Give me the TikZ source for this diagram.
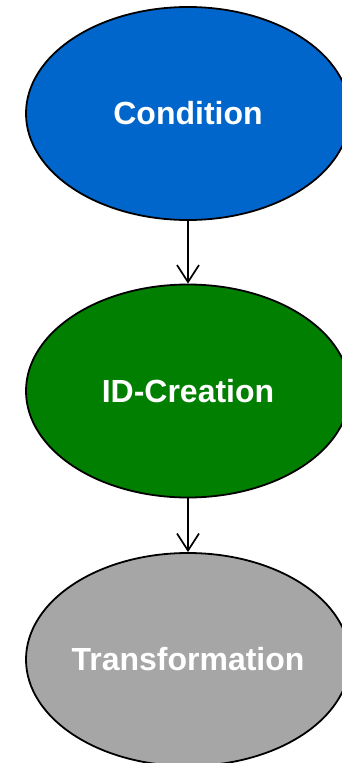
\documentclass[tikz,border=0pt]{standalone}
\usepackage{fontspec}
\setmainfont{Liberation Sans}
\usetikzlibrary{shapes.geometric,arrows.meta}
\definecolor{condblue}{HTML}{0066CC}
\definecolor{idgreen}{HTML}{007F00}
\definecolor{trgray}{HTML}{A6A6A6}
\tikzset{
  % fixed-size ellipse; the caption is set as a centred label so that
  % long words do not enlarge the shape
  stage/.style={ellipse, draw=black, line width=1.8pt, inner sep=0pt,
    minimum width=324pt, minimum height=213pt,
    label={[text=white, font=\fontsize{32}{38}\selectfont\bfseries]center:#1}},
  flow/.style={line width=1.7pt, -{Straight Barb[length=17pt,width=22pt,line width=1.7pt]}}
}
\begin{document}
\begin{tikzpicture}[x=1pt,y=1pt]
  \clip (0,0) rectangle (342,-763);
  \fill[white] (0,0) rectangle (342,-763);
  \node[stage=Condition,      fill=condblue] (cond)  at (188,-113.5) {};
  \node[stage=ID-Creation,    fill=idgreen]  (idc)   at (188,-391)   {};
  \node[stage=Transformation, fill=trgray]   (trans) at (188,-659.5) {};
  \draw[flow] (cond.south) -- (idc.north);
  \draw[flow] (idc.south) -- (trans.north);
\end{tikzpicture}
\end{document}
